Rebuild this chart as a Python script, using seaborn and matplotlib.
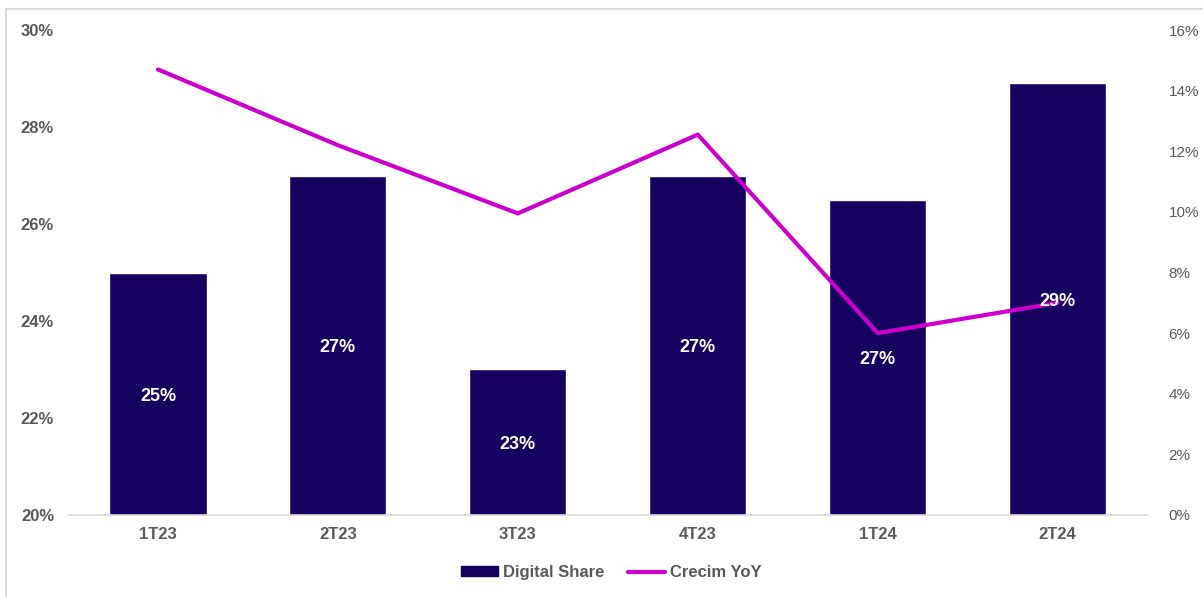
import matplotlib.pyplot as plt
import seaborn as sns
import pandas as pd
from matplotlib.patches import Patch, Rectangle
from matplotlib.lines import Line2D
from matplotlib.ticker import FuncFormatter

quarters = ["1T23", "2T23", "3T23", "4T23", "1T24", "2T24"]
digital_share = [25.0, 27.0, 23.0, 27.0, 26.5, 28.9]
crecim_yoy = [14.7, 12.2, 9.95, 12.55, 6.0, 7.0]

bar_color = "#160060"
line_color = "#CC00CC"
text_color = "#595959"

sns.set_style("white")
plt.rcParams["font.family"] = ["Liberation Sans", "DejaVu Sans"]

df = pd.DataFrame({"quarter": quarters, "share": digital_share, "yoy": crecim_yoy})

fig = plt.figure(figsize=(12.03, 5.97), dpi=100)
ax = fig.add_axes([0.0565, 0.1374, 0.8975, 0.8123])

sns.barplot(data=df, x="quarter", y="share", color=bar_color, width=0.54,
            saturation=1, ax=ax, zorder=2)
ax.set_ylim(20, 30)
ax.set_yticks(range(20, 31, 2))
ax.yaxis.set_major_formatter(FuncFormatter(lambda v, p: f"{v:.0f}%"))
ax.set_xlim(-0.5, len(quarters) - 0.5)
ax.set_xlabel("")
ax.set_ylabel("")
for s in ["top", "right", "left"]:
    ax.spines[s].set_visible(False)
ax.spines["bottom"].set_color("#D9D9D9")
ax.spines["bottom"].set_linewidth(1.2)
ax.tick_params(axis="both", length=0, colors=text_color, labelsize=12)
ax.tick_params(axis="y", pad=10)
ax.tick_params(axis="x", pad=9)
for lbl in ax.get_xticklabels() + ax.get_yticklabels():
    lbl.set_fontweight("bold")

ax2 = ax.twinx()
sns.lineplot(x=range(len(quarters)), y=crecim_yoy, color=line_color,
             linewidth=3, ax=ax2, solid_capstyle="round")
ax2.set_ylim(0, 16)
ax2.set_yticks(range(0, 17, 2))
ax2.yaxis.set_major_formatter(FuncFormatter(lambda v, p: f"{v:.0f}%"))
for s in ["top", "right", "left", "bottom"]:
    ax2.spines[s].set_visible(False)
ax2.tick_params(axis="y", length=0, colors=text_color, labelsize=11, pad=15)

# bar value labels, centred in each bar, drawn above the line
for i, v in enumerate(digital_share):
    ax2.text(i, (20 + v) / 2 - 0.05, f"{int(v + 0.5)}%", transform=ax.transData,
             ha="center", va="center", color="white", fontsize=13,
             fontweight="bold", zorder=5)

handles = [Patch(facecolor=bar_color, edgecolor=bar_color),
           Line2D([0], [0], color=line_color, linewidth=3)]
fig.legend(handles, ["Digital Share", "Crecim YoY"], loc="center",
           bbox_to_anchor=(0.508, 0.041), ncol=2, frameon=False,
           handlelength=2.2, handleheight=0.55,
           handletextpad=0.3, columnspacing=1.45,
           labelcolor=text_color, prop={"weight": "bold", "size": 12})

# chart-area border (right and bottom edges fall outside the image)
fig.patches.append(Rectangle((0.005, -0.05), 1.05, 1.035, transform=fig.transFigure,
                             fill=False, edgecolor="#D9D9D9", linewidth=1.5))

fig.savefig("out.png", dpi=100)
